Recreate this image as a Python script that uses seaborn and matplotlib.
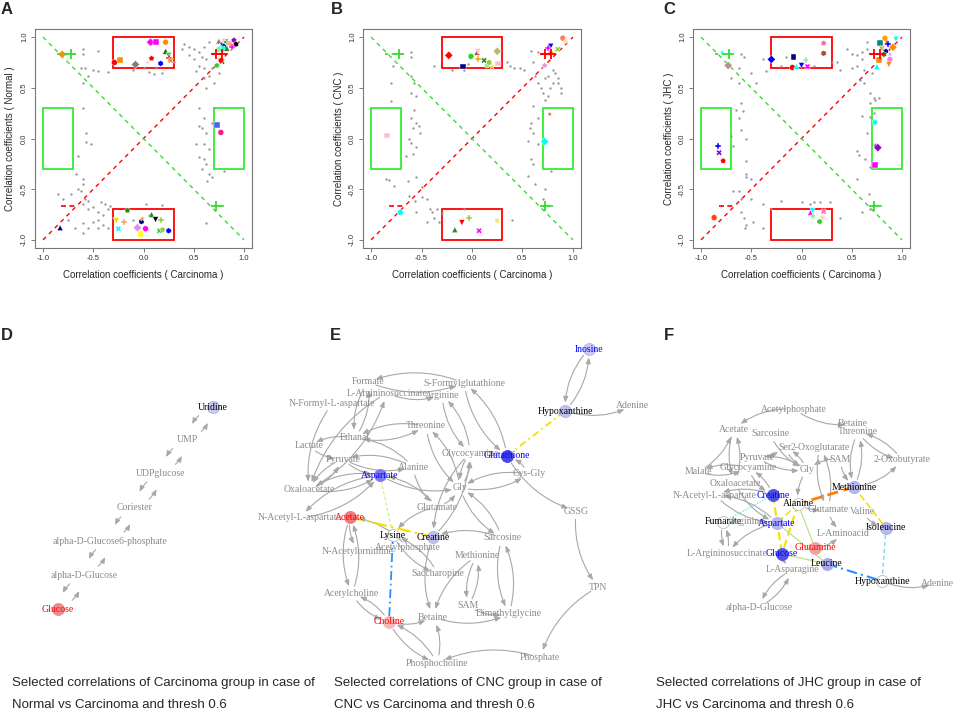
import numpy as np
import pandas as pd
import seaborn as sns
import matplotlib.pyplot as plt
from matplotlib.patches import Rectangle

sns.set_style("white")
plt.rcParams['font.family'] = ['Liberation Sans', 'DejaVu Sans']

W, H = 964, 717

# ---------------- scatter data (correlation coefficients) ----------------
A_gx = [-0.60, -0.45, -0.60, -0.62, -0.58, -0.50, -0.45, -0.35, -0.55, -0.60,
        -0.60, -0.57, -0.57, -0.52, -0.65, -0.67, -0.60, -0.10, 0.00, 0.05,
        0.10, 0.18, 0.12, 0.30, 0.38, 0.40, 0.45, 0.50, 0.55, 0.60,
        0.65, 0.58, 0.62, 0.50, 0.45, 0.55, 0.60, 0.52, 0.60, 0.62,
        0.70, 0.65, 0.68, 0.72, 0.75, 0.55, 0.60, 0.58, 0.62, 0.70,
        0.68, 0.52, 0.55, 0.60, 0.62, 0.58, 0.65, 0.63, 0.68, 0.80,
        0.60, 0.65, 0.55, 0.62, -0.85, -0.80, -0.72, -0.65, -0.62, -0.60,
        -0.58, -0.55, -0.60, -0.55, -0.50, -0.45, -0.40, -0.35, -0.38, -0.33,
        -0.45, -0.50, -0.55, -0.60, -0.68, -0.60, -0.45, -0.40, -0.35, -0.30,
        -0.42, -0.75, -0.10, 0.05, 0.18, 0.02]
A_gy = [0.88, 0.86, 0.83, 0.70, 0.70, 0.68, 0.67, 0.66, 0.62, 0.55,
        0.30, 0.05, -0.03, -0.05, -0.17, -0.35, -0.40, 0.68, 0.70, 0.66,
        0.64, 0.65, 0.70, 0.75, 0.88, 0.93, 0.90, 0.88, 0.85, 0.90,
        0.95, 0.80, 0.78, 0.78, 0.82, 0.72, 0.70, 0.67, 0.60, 0.50,
        0.55, 0.62, 0.70, 0.72, 0.65, 0.30, 0.20, 0.10, 0.05, 0.30,
        0.15, -0.05, -0.18, -0.20, -0.25, -0.30, -0.35, -0.42, -0.38, -0.32,
        -0.05, -0.10, 0.12, -0.83, -0.55, -0.60, -0.55, -0.50, -0.52, -0.45,
        -0.60, -0.62, -0.65, -0.70, -0.68, -0.72, -0.75, -0.70, -0.65, -0.67,
        -0.80, -0.82, -0.88, -0.83, -0.88, -0.93, -0.88, -0.85, -0.88, -0.78,
        -0.63, -0.80, -0.80, -0.75, -0.66, -0.65]
A_cx = [0.07, 0.12, 0.22, 0.22, 0.25, 0.25, 0.27, 0.08, 0.17, 0.04, -0.08, -0.23, -0.29,
        0.75, 0.80, 0.83, 0.85, 0.90, 0.92, 0.78, 0.80, 0.78, 0.75, 0.83, 0.86, 0.88, 0.78, 0.73, 0.77,
        -0.78, -0.81, 0.73, 0.77, -0.83,
        -0.27, -0.19, -0.25, -0.16, -0.02, -0.01, -0.06, -0.03, 0.02, 0.08, 0.12, 0.17, 0.16, 0.19, 0.25]
A_cy = [0.95, 0.95, 0.95, 0.86, 0.82, 0.79, 0.77, 0.79, 0.74, 0.75, 0.73, 0.77, 0.75,
        0.96, 0.96, 0.95, 0.94, 0.97, 0.93, 0.93, 0.90, 0.88, 0.88, 0.89, 0.92, 0.90, 0.76, 0.72, 0.77,
        0.83, 0.83, 0.13, 0.06, -0.88,
        -0.81, -0.82, -0.89, -0.71, -0.82, -0.79, -0.88, -0.94, -0.89, -0.75, -0.80, -0.80, -0.91, -0.90, -0.91]
A_cc = ['magenta', 'magenta', 'darkorange', 'darkgreen', 'limegreen', 'red', 'darkorange', 'red', 'blue',
        'pink', 'grey', 'darkorange', 'red',
        'grey', 'pink', 'green', 'violet', 'darkviolet', 'black', 'blue', 'navy', 'cyan', 'lightgreen',
        'forestgreen', 'orange', 'magenta', 'darkgreen', 'limegreen', 'red',
        'hotpink', 'darkorange', 'royalblue', 'deeppink', 'navy',
        'gold', 'sandybrown', 'cyan', 'forestgreen', 'navy', 'darkorange', 'violet', 'yellow', 'magenta',
        'forestgreen', 'black', 'yellowgreen', 'limegreen', 'yellowgreen', 'blue']

B_gx = [-0.60, -0.60, -0.78, -0.80, -0.80, -0.60, -0.57, -0.60, -0.55, -0.57,
        -0.60, -0.55, -0.52, -0.55, -0.58, -0.60, -0.65, -0.62, -0.53, -0.58,
        -0.38, -0.20, -0.08, -0.04, 0.35, 0.38, 0.42, 0.48, 0.52, 0.58,
        0.65, 0.60, 0.62, 0.65, 0.68, 0.72, 0.75, 0.80, 0.82, 0.85,
        0.88, 0.88, 0.85, 0.80, 0.77, 0.70, 0.72, 0.75, 0.60, 0.58,
        0.57, 0.60, 0.65, 0.65, 0.55, 0.58, 0.60, 0.55, 0.62, 0.72,
        0.70, 0.78, 0.40, -0.85, -0.82, -0.77, -0.63, -0.62, -0.56, -0.55,
        -0.50, -0.50, -0.45, -0.42, -0.40, -0.35, -0.38, -0.33, -0.45, -0.55,
        -0.08, -0.30]
B_gy = [0.85, 0.80, 0.72, 0.55, 0.37, 0.62, 0.55, 0.45, 0.42, 0.28,
        0.20, 0.15, 0.05, -0.08, -0.15, -0.04, -0.17, 0.00, 0.12, 0.10,
        0.72, 0.68, 0.68, 0.73, 0.75, 0.72, 0.70, 0.70, 0.68, 0.86,
        0.85, 0.75, 0.62, 0.55, 0.50, 0.60, 0.62, 0.68, 0.65, 0.60,
        0.50, 0.45, 0.55, 0.55, 0.50, 0.45, 0.38, 0.42, 0.32, 0.15,
        0.10, 0.05, 0.20, -0.05, -0.02, -0.20, -0.25, -0.37, -0.45, -0.50,
        -0.60, -0.32, -0.80, -0.40, -0.41, -0.47, -0.42, -0.57, -0.62, -0.38,
        -0.48, -0.58, -0.60, -0.70, -0.72, -0.70, -0.78, -0.82, -0.82, -0.72,
        -0.70, -0.73]
B_cx = [-0.23, -0.09, -0.01, 0.05, 0.06, 0.06, 0.12, 0.15, 0.17, 0.20, 0.25, 0.26,
        0.90, 0.93, 0.78, 0.75, 0.85, 0.72, 0.78,
        0.77, 0.72, -0.84, -0.71,
        -0.17, -0.10, -0.03, 0.07, 0.25]
B_cy = [0.82, 0.71, 0.81, 0.85, 0.86, 0.78, 0.77, 0.72, 0.75, 0.71, 0.86, 0.74,
        0.99, 0.97, 0.91, 0.89, 0.88, 0.72, 0.84,
        0.24, -0.03, 0.03, -0.73,
        -0.90, -0.83, -0.78, -0.91, -0.81]
B_cc = ['red', 'navy', 'limegreen', 'sienna', 'pink', 'orange', 'forestgreen', 'lightgreen', 'yellowgreen',
        'gold', 'darkkhaki', 'pink',
        'coral', 'peachpuff', 'blue', 'magenta', 'yellowgreen', 'plum', 'darkorange',
        'orangered', 'cyan', 'pink', 'cyan',
        'forestgreen', 'red', 'yellowgreen', 'magenta', 'khaki']

C_gx = [-0.60, -0.57, -0.62, -0.50, -0.45, -0.38, -0.35, -0.20, -0.15, 0.12,
        0.30, 0.35, 0.38, 0.45, 0.50, 0.55, 0.55, 0.60, 0.65, 0.65,
        0.60, 0.50, 0.62, 0.58, 0.62, 0.68, 0.70, 0.72, 0.73, 0.77,
        0.68, 0.60, 0.68, 0.72, 0.65, 0.70, 0.55, 0.57, 0.63, 0.68,
        0.55, 0.67, 0.68, 0.60, 0.38, 0.08, 0.12, 0.18, 0.28, 0.00,
        -0.20, -0.48, -0.55, -0.56, -0.57, -0.55, -0.55, -0.50, -0.50, -0.60,
        -0.60, -0.68, -0.62, -0.55, -0.55, -0.60, -0.62, -0.58, -0.65, -0.60,
        -0.62, -0.70, -0.70, -0.68, -0.38, -0.30, -0.38]
C_gy = [0.83, 0.80, 0.70, 0.65, 0.55, 0.78, 0.67, 0.72, 0.80, 0.72,
        0.75, 0.75, 0.68, 0.88, 0.83, 0.82, 0.72, 0.85, 0.95, 0.88,
        0.78, 0.70, 0.68, 0.58, 0.55, 0.45, 0.65, 0.40, 0.38, 0.40,
        0.35, 0.22, 0.21, 0.25, 0.05, -0.05, -0.12, -0.16, -0.20, -0.28,
        -0.40, -0.55, -0.70, -0.72, -0.78, -0.65, -0.63, -0.63, -0.63, -0.63,
        -0.62, -0.82, -0.85, -0.88, -0.78, -0.35, -0.38, -0.40, -0.60, -0.60,
        -0.72, -0.52, -0.52, -0.22, 0.00, 0.08, 0.20, 0.27, 0.28, 0.35,
        0.55, 0.60, 0.02, -0.07, -0.65, -0.70, -0.88]
C_cx = [-0.30, -0.08, -0.09, -0.05, 0.00, 0.04, 0.06, 0.22, 0.22,
        -0.79, -0.73,
        0.78, 0.83, 0.85, 0.94, 0.86, 0.80, 0.84, 0.82, 0.88, 0.91, 0.77, 0.88, 0.75, 0.87,
        -0.83, -0.82, -0.78, 0.73, 0.74, 0.76, 0.73,
        -0.87, 0.09, 0.11, 0.11, 0.22, 0.21, 0.18]
C_cy = [0.78, 0.80, 0.70, 0.71, 0.72, 0.77, 0.71, 0.94, 0.84,
        0.85, 0.72,
        0.94, 0.99, 0.95, 0.98, 0.93, 0.89, 0.86, 0.83, 0.83, 0.90, 0.77, 0.78, 0.71, 0.73,
        -0.07, -0.14, -0.22, 0.16, -0.07, -0.09, -0.26,
        -0.78, -0.73, -0.71, -0.76, -0.72, -0.78, -0.82]
C_cc = ['blue', 'navy', 'red', 'cyan', 'blue', 'lightgreen', 'magenta', 'hotpink', 'sienna',
        'cyan', 'rosybrown',
        'darkcyan', 'orange', 'red', 'cyan', 'blue', 'darkkhaki', 'navy', 'forestgreen', 'violet',
        'darkorange', 'darkorange', 'violet', 'cyan', 'darkorange',
        'blue', 'darkviolet', 'red', 'cyan', 'black', 'darkviolet', 'magenta',
        'orangered', 'magenta', 'cyan', 'lightgreen', 'hotpink', 'peachpuff', 'limegreen']

TICKS = [-1.0, -0.5, 0.0, 0.5, 1.0]
RED_BOXES = [(-0.3, 0.7, 0.6, 0.3), (-0.3, -1.0, 0.6, 0.3)]
GREEN_BOXES = [(-1.0, -0.3, 0.3, 0.6), (0.7, -0.3, 0.3, 0.6)]
MARKERS = ['D', 's', 'o', '^', 'v', 'P', 'X', 'p', 'h', '*']

# ---------------- network data (node layout + edges) ----------------
D_names = ['Uridine', 'UMP', 'UDPglucose', 'Coriester', 'alpha-D-Glucose6-phosphate',
           'alpha-D-Glucose', 'Glucose']
D_x = [213, 187, 161, 135, 110, 84, 58]
D_y = [407, 440, 473, 508, 541, 575, 609]
D_pairs = [('Uridine', 'UMP'), ('UMP', 'UDPglucose'), ('UDPglucose', 'Coriester'),
           ('Coriester', 'alpha-D-Glucose6-phosphate'),
           ('alpha-D-Glucose6-phosphate', 'alpha-D-Glucose'), ('alpha-D-Glucose', 'Glucose')]

E_names = ['Inosine', 'Formate', 'S-Formylglutathione', 'L-Argininosuccinate', 'Arginine',
           'N-Formyl-L-aspartate', 'Hypoxanthine', 'Adenine', 'Threonine', 'Ethanal',
           'Lactate', 'Glycocyamine', 'Glutathione', 'Pyruvate', 'Alanine',
           'Cys-Gly', 'Aspartate', 'Gly', 'Oxaloacetate', 'Glutamate',
           'GSSG', 'Acetate', 'N-Acetyl-L-aspartate', 'Lysine', 'Creatine',
           'Sarcosine', 'Acetylphosphate', 'N-Acetylornithine', 'Methionine', 'Saccharopine',
           'TPN', 'Acetylcholine', 'SAM', 'Dimethylglycine', 'Betaine',
           'Choline', 'Phosphate', 'Phosphocholine']
E_x = [589, 368, 464, 387, 442, 332, 565, 632, 426, 355,
       309, 470, 507, 343, 413, 529, 380, 460, 309, 437,
       576, 350, 300, 393, 433, 502, 408, 358, 477, 438,
       598, 352, 468, 509, 433, 389, 540, 437]
E_y = [349, 382, 383, 393, 395, 404, 411, 406, 426, 438,
       446, 453, 456, 459, 467, 474, 475, 488, 490, 507,
       511, 517, 518, 535, 537, 538, 548, 551, 556, 574,
       587, 594, 606, 614, 617, 622, 658, 663]
E_pairs = [('Formate', 'S-Formylglutathione'), ('Formate', 'Ethanal'), ('L-Argininosuccinate', 'Oxaloacetate'),
           ('Ethanal', 'Threonine'), ('Pyruvate', 'Alanine'), ('Aspartate', 'Oxaloacetate'),
           ('Aspartate', 'N-Acetyl-L-aspartate'), ('Oxaloacetate', 'Pyruvate'), ('Acetate', 'Acetylcholine'),
           ('Acetylcholine', 'Choline'), ('Methionine', 'SAM'), ('Saccharopine', 'Lysine'),
           ('Creatine', 'Glycocyamine'), ('Gly', 'Glycocyamine'), ('Gly', 'Sarcosine'), ('Gly', 'Cys-Gly'),
           ('Phosphocholine', 'Choline'), ('S-Formylglutathione', 'Glutathione'), ('Threonine', 'Gly'),
           ('Arginine', 'Glycocyamine'), ('Inosine', 'Hypoxanthine'), ('Sarcosine', 'Dimethylglycine')]
E_singles = [('L-Argininosuccinate', 'Arginine'), ('N-Formyl-L-aspartate', 'Oxaloacetate'),
             ('Ethanal', 'Lactate'), ('Lactate', 'Pyruvate'), ('Pyruvate', 'Aspartate'),
             ('Alanine', 'Glutamate'), ('Alanine', 'Ethanal'), ('Aspartate', 'Gly'), ('Glutamate', 'Aspartate'),
             ('Acetate', 'N-Acetylornithine'), ('Acetylphosphate', 'Acetate'), ('Choline', 'Betaine'),
             ('Betaine', 'Dimethylglycine'), ('SAM', 'Dimethylglycine'), ('Methionine', 'Betaine'),
             ('Sarcosine', 'Creatine'), ('Cys-Gly', 'Glutathione'), ('Glutathione', 'GSSG'),
             ('GSSG', 'TPN'), ('TPN', 'Phosphate'), ('Phosphate', 'Phosphocholine'),
             ('Phosphocholine', 'Betaine'), ('Hypoxanthine', 'Adenine'), ('Glutamate', 'Gly'),
             ('Glutamate', 'Lysine'), ('Creatine', 'Betaine')]
E_special = [('Aspartate', 'Lysine', '#c8ec80', (0, (3, 2)), 0.8),
             ('Acetate', 'Creatine', '#f2e200', (0, (6, 2, 1, 2)), 1.6),
             ('Lysine', 'Choline', '#2a90ff', (0, (5, 2, 1, 2)), 1.3),
             ('Glutathione', 'Hypoxanthine', '#f2e200', (0, (4, 2, 1, 2)), 1.3)]

F_names = ['Acetylphosphate', 'Acetate', 'Sarcosine', 'Betaine', 'Threonine',
           'Ser', '2-Oxoglutarate', '2-Oxobutyrate', 'Pyruvate', 'Glycocyamine',
           'Malate', 'Gly', 'SAM', 'Oxaloacetate', 'N-Acetyl-L-aspartate',
           'Creatine', 'Methionine', 'Alanine', 'Glutamate', 'Valine',
           'Fumarate', 'Arginine', 'Aspartate', 'Isoleucine', 'L-Aminoacid',
           'Glutamine', 'Glucose', 'L-Argininosuccinate', 'Leucine', 'L-Asparagine',
           'Hypoxanthine', 'Adenine', 'alpha-D-Glucose']
F_x = [794, 734, 770, 853, 858, 785, 820, 902, 757, 748,
       698, 807, 840, 735, 715, 773, 854, 798, 828, 862,
       723, 747, 777, 886, 843, 815, 782, 727, 827, 792,
       882, 937, 759]
F_y = [409, 429, 434, 424, 432, 447, 447, 460, 457, 468,
       472, 470, 459, 483, 495, 495, 487, 504, 509, 512,
       522, 521, 523, 528, 533, 548, 554, 554, 564, 570,
       581, 583, 607]
F_pairs = [('Acetate', 'Oxaloacetate'), ('Threonine', '2-Oxobutyrate'), ('Threonine', 'Methionine'),
           ('Ser', 'Gly'), ('2-Oxoglutarate', 'Glutamate'), ('Pyruvate', 'Gly'),
           ('Malate', 'Glycocyamine'), ('Glycocyamine', 'Creatine'), ('N-Acetyl-L-aspartate', 'Aspartate'),
           ('Fumarate', 'L-Argininosuccinate'), ('L-Asparagine', 'alpha-D-Glucose')]
F_singles = [('Acetylphosphate', 'Acetate'), ('Acetylphosphate', 'Betaine'), ('Sarcosine', 'Gly'),
             ('SAM', 'Methionine'), ('SAM', 'Gly'), ('Pyruvate', 'Ser'), ('Oxaloacetate', 'Aspartate'),
             ('Aspartate', 'L-Argininosuccinate'), ('Alanine', 'Glutamate'), ('Gly', 'Alanine'),
             ('Glutamate', 'L-Aminoacid'), ('Valine', 'Isoleucine'), ('Methionine', '2-Oxobutyrate'),
             ('Glutamine', 'L-Aminoacid'), ('Glucose', 'L-Asparagine'), ('Hypoxanthine', 'Adenine'),
             ('Creatine', 'N-Acetyl-L-aspartate'), ('Malate', 'Acetate')]
F_special = [('Methionine', 'Alanine', '#ff7f00', (0, (4, 2)), 2.0),
             ('Methionine', 'Isoleucine', '#f2e200', (0, (4, 2)), 1.2),
             ('Isoleucine', 'Hypoxanthine', '#7fd8f0', (0, (3, 2)), 1.0),
             ('Leucine', 'Hypoxanthine', '#2a90ff', (0, (5, 2, 1, 2)), 1.5),
             ('Creatine', 'Fumarate', '#7fe8f0', (0, (1, 1)), 1.0),
             ('Creatine', 'Glucose', '#f2e200', (0, (4, 2)), 1.5),
             ('Alanine', 'Glucose', '#f2e200', (0, (4, 2)), 1.5),
             ('Alanine', 'Aspartate', '#f2e200', (0, (4, 2)), 1.2),
             ('Alanine', 'Glutamine', '#b8e07a', '-', 0.8),
             ('Aspartate', 'Leucine', '#b8e07a', '-', 0.8),
             ('Glucose', 'Leucine', '#b8e07a', '-', 0.8)]

# node fill, node edge, label colour
D_style = {'Uridine': ('#c8c8f2', '#b0b0e8', 'black'), 'Glucose': ('#f08a8a', '#f08a8a', 'red')}
E_style = {'Aspartate': ('#7b7bee', '#7b7bee', 'blue'), 'Glutathione': ('#4848e6', '#4848e6', 'blue'),
           'Inosine': ('#c8c8f2', '#b8b8ea', 'blue'), 'Hypoxanthine': ('#c0c0f0', '#b0b0e8', 'black'),
           'Creatine': ('#c0c0f0', '#b0b0e8', 'black'), 'Acetate': ('#f07a7a', '#f07a7a', 'red'),
           'Choline': ('#f4b8b8', '#f4b8b8', 'red'), 'Lysine': ('white', '#bbbbbb', 'black')}
F_style = {'Creatine': ('#5050e6', '#5050e6', 'blue'), 'Glucose': ('#5050e6', '#5050e6', 'blue'),
           'Aspartate': ('#b8b8f2', '#a8a8ea', 'blue'), 'Methionine': ('#b8b8f2', '#a8a8ea', 'black'),
           'Isoleucine': ('#b8b8f2', '#a8a8ea', 'black'), 'Leucine': ('#a8a8ee', '#a8a8ee', 'black'),
           'Glutamine': ('#f4a0a0', '#f4a0a0', 'red'), 'Alanine': ('white', '#bbbbbb', 'black'),
           'Fumarate': ('white', '#bbbbbb', 'black'), 'Hypoxanthine': ('white', '#bbbbbb', 'black')}

CAPTIONS = [("Selected correlations of Carcinoma group in case of", "Normal vs Carcinoma and thresh 0.6"),
            ("Selected correlations of CNC group in case of", "CNC vs Carcinoma and thresh 0.6"),
            ("Selected correlations of JHC group in case of", "JHC vs Carcinoma and thresh 0.6")]


def px_axes(fig, left, top, right, bottom):
    return fig.add_axes([left / W, 1 - bottom / H, (right - left) / W, (bottom - top) / H])


def corr_panel(ax, gx, gy, cx, cy, cc, ylabel):
    ax.plot([-1, 1], [-1, 1], color='red', ls=(0, (3, 3)), lw=1.0, zorder=1)
    ax.plot([-1, 1], [1, -1], color='#33dd33', ls=(0, (3, 3)), lw=1.0, zorder=1)
    for x0, y0, w, h in RED_BOXES:
        ax.add_patch(Rectangle((x0, y0), w, h, fill=False, ec='red', lw=1.3, zorder=2))
    for x0, y0, w, h in GREEN_BOXES:
        ax.add_patch(Rectangle((x0, y0), w, h, fill=False, ec='#33ee33', lw=1.3, zorder=2))
    sns.scatterplot(x=gx, y=gy, color='#9a9a9a', s=3, linewidth=0, ax=ax, zorder=3)
    df = pd.DataFrame({'x': cx, 'y': cy, 'id': range(len(cx))})
    sns.scatterplot(data=df, x='x', y='y', hue='id', style='id',
                    palette={i: c for i, c in enumerate(cc)},
                    markers={i: MARKERS[i % len(MARKERS)] for i in range(len(cx))},
                    s=18, linewidth=0.3, edgecolor='white', legend=False, ax=ax, zorder=4)
    # threshold markers
    ax.plot([0.68, 0.82], [0.83, 0.83], color='red', ls=(0, (2, 2)), lw=1.2, zorder=5)
    ax.scatter([0.72, 0.78], [0.83, 0.83], marker='+', color='red', s=45, lw=1.3, zorder=5)
    ax.plot([-0.82, -0.67], [-0.67, -0.67], color='red', ls=(0, (3, 2)), lw=1.2, zorder=5)
    ax.plot([-0.86, -0.70], [0.83, 0.83], color='#33dd33', ls=(0, (2, 2)), lw=1.2, zorder=5)
    ax.scatter([-0.72], [0.83], marker='+', color='#33dd33', s=45, lw=1.3, zorder=5)
    ax.plot([0.70, 0.82], [-0.67, -0.67], color='#33dd33', ls=(0, (2, 2)), lw=1.2, zorder=5)
    ax.scatter([0.72], [-0.67], marker='+', color='#33dd33', s=45, lw=1.3, zorder=5)

    ax.set_xlim(-1.08, 1.08)
    ax.set_ylim(-1.08, 1.08)
    ax.set_xticks(TICKS)
    ax.set_yticks(TICKS)
    ax.set_xticklabels([f'{t:.1f}' for t in TICKS])
    ax.set_yticklabels([f'{t:.1f}' for t in TICKS], rotation=90, va='center')
    ax.tick_params(labelsize=5.5, length=3, width=0.6, color='#666666', labelcolor='#333333',
                   direction='out', bottom=True, left=True, pad=2)
    for s in ax.spines.values():
        s.set_color('#777777')
        s.set_linewidth(0.8)
    ax.set_xlabel('Correlation coefficients ( Carcinoma )', fontsize=7, labelpad=6)
    ax.set_ylabel(ylabel, fontsize=7, labelpad=4)


def net_panel(ax, names, xs, ys, pairs, singles, special, styles, shrink, rad):
    pos = dict(zip(names, zip(xs, ys)))

    def arrow(a, b):
        ax.annotate('', xy=pos[b], xytext=pos[a], zorder=1,
                    arrowprops=dict(arrowstyle='-|>,head_length=0.5,head_width=0.2', color='#a8a8a8',
                                    lw=0.8, shrinkA=shrink, shrinkB=shrink, mutation_scale=7,
                                    connectionstyle=f'arc3,rad={rad}'))

    for a, b in pairs:
        arrow(a, b)
        arrow(b, a)
    for a, b in singles:
        arrow(a, b)
    for a, b, c, ls, lw in special:
        ax.plot([pos[a][0], pos[b][0]], [pos[a][1], pos[b][1]], color=c, ls=ls, lw=lw, zorder=2)
    for n in names:
        x, y = pos[n]
        tc = '#8a8a8a'
        if n in styles:
            fc, ec, tc = styles[n]
            ax.scatter([x], [y], s=75, color=fc, edgecolors=ec, linewidths=0.6, zorder=3)
        ax.text(x, y, n, ha='center', va='center', fontsize=7, color=tc,
                family=['Liberation Serif', 'DejaVu Serif'], zorder=4)


fig = plt.figure(figsize=(W / 100, H / 100), dpi=100)

# network layer over the whole figure, in pixel units
ax_net = fig.add_axes([0, 0, 1, 1])
ax_net.set_xlim(0, W)
ax_net.set_ylim(H, 0)
ax_net.axis('off')
net_panel(ax_net, D_names, D_x, D_y, D_pairs, [], [], D_style, 12, 0.3)
net_panel(ax_net, E_names, E_x, E_y, E_pairs, E_singles, E_special, E_style, 6, 0.2)
net_panel(ax_net, F_names, F_x, F_y, F_pairs, F_singles, F_special, F_style, 6, 0.2)

for (l1, l2), x in zip(CAPTIONS, [12, 334, 656]):
    ax_net.text(x, 683, l1, fontsize=9.5, va='center', ha='left')
    ax_net.text(x, 705, l2, fontsize=9.5, va='center', ha='left')

for lab, x, y in [('A', 7, 9), ('B', 337, 9), ('C', 669, 9), ('D', 7, 335), ('E', 335, 335), ('F', 669, 335)]:
    ax_net.text(x, y, lab, fontsize=12, fontweight='bold', ha='center', va='center')

axA = px_axes(fig, 35, 29, 252, 248)
axB = px_axes(fig, 363, 29, 581, 248)
axC = px_axes(fig, 693, 29, 910, 248)
corr_panel(axA, A_gx, A_gy, A_cx, A_cy, A_cc, 'Correlation coefficients ( Normal )')
corr_panel(axB, B_gx, B_gy, B_cx, B_cy, B_cc, 'Correlation coefficients ( CNC )')
corr_panel(axC, C_gx, C_gy, C_cx, C_cy, C_cc, 'Correlation coefficients ( JHC )')

fig.savefig('out.png', dpi=100)
